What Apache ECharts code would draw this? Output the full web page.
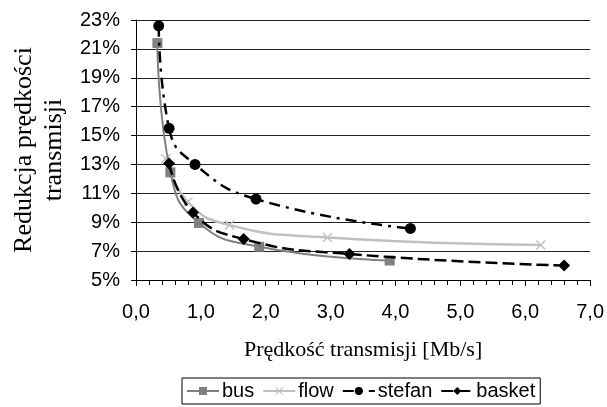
<!DOCTYPE html>
<html>
<head>
<meta charset="utf-8">
<script src="https://cdn.jsdelivr.net/npm/echarts@6/dist/echarts.min.js"></script>
<style>
  html, body { margin: 0; padding: 0; background: #fff; }
  #chart_example { width: 607px; height: 407px; }
</style>
</head>
<body>
<div id="chart_example"></div>
<script>
// dane
var busX = [0.33, 0.53, 0.97, 1.9, 3.91];
var busY = [21.4, 12.45, 8.95, 7.3, 6.35];
var flowX = [0.46, 0.8, 1.44, 2.95, 6.24];
var flowY = [13.4, 10.4, 8.8, 7.95, 7.42];
var stefanX = [0.35, 0.51, 0.91, 1.85, 4.23];
var stefanY = [22.6, 15.5, 13.0, 10.6, 8.57];
var basketX = [0.51, 0.88, 1.66, 3.29, 6.6];
var basketY = [13.07, 9.67, 7.83, 6.8, 6.0];

function pairs(xs, ys) {
  return xs.map(function(x, i) { return [x, ys[i]]; });
}

var crossIcon = "path://M0,1L1,0L5,4L9,0L10,1L6,5L10,9L9,10L5,6L1,10L0,9L4,5Z";

var myChart = echarts.init(document.getElementById("chart_example"));
var option = {
  backgroundColor: "#ffffff",
  animation: false,
  grid: { left: 136, right: 15, top: 20, bottom: 127 },
  xAxis: {
    type: "value",
    min: 0,
    max: 7,
    interval: 1,
    name: "Prędkość transmisji [Mb/s]",
    nameLocation: "middle",
    nameGap: 59,
    nameTextStyle: { fontFamily: "Liberation Serif", fontSize: 22, color: "#000" },
    axisLine: { lineStyle: { color: "#000", width: 1 } },
    axisTick: { show: true, length: 6, lineStyle: { color: "#000" } },
    minorTick: { show: true, splitNumber: 5, length: 5, lineStyle: { color: "#000" } },
    splitLine: { show: false },
    axisLabel: {
      margin: 22,
      fontFamily: "Liberation Sans",
      fontSize: 20,
      color: "#000",
      formatter: function(v) { return v.toFixed(1).replace(".", ","); }
    }
  },
  yAxis: {
    type: "value",
    min: 5,
    max: 23,
    interval: 2,
    name: "Redukcja prędkości\ntransmisji",
    nameLocation: "middle",
    nameGap: 66,
    nameTextStyle: { fontFamily: "Liberation Serif", fontSize: 26, lineHeight: 30, color: "#000" },
    axisLine: { show: true, lineStyle: { color: "#000", width: 1 } },
    axisTick: { show: true, length: 5, lineStyle: { color: "#000" } },
    splitLine: { show: true, lineStyle: { color: "#222", width: 1 } },
    axisLabel: {
      margin: 16,
      fontFamily: "Liberation Sans",
      fontSize: 20,
      color: "#000",
      formatter: "{value}%"
    }
  },
  legend: {
    left: 182,
    top: 378,
    padding: [3, 5, 3, 4],
    itemGap: 8,
    itemWidth: 32,
    itemHeight: 10,
    borderColor: "#000",
    borderWidth: 1,
    borderRadius: 0,
    textStyle: { fontFamily: "Liberation Sans", fontSize: 20, color: "#000", padding: [0, 0, 0, -2] },
    data: ["bus", "flow", "stefan", "basket"]
  },
  series: [
    {
      name: "bus",
      type: "line",
      smooth: 0.5,
      data: pairs(busX, busY),
      symbol: "rect",
      symbolSize: 10,
      itemStyle: { color: "#808080" },
      lineStyle: { color: "#808080", width: 2 },
      z: 3
    },
    {
      name: "flow",
      type: "line",
      smooth: 0.5,
      data: pairs(flowX, flowY),
      symbol: crossIcon,
      symbolSize: 10,
      itemStyle: { color: "#c0c0c0" },
      lineStyle: { color: "#c0c0c0", width: 2.5 },
      z: 2
    },
    {
      name: "stefan",
      type: "line",
      smooth: 0.5,
      data: pairs(stefanX, stefanY),
      symbol: "circle",
      symbolSize: 11,
      itemStyle: { color: "#000" },
      lineStyle: { color: "#000", width: 2.5, type: [11, 6, 3, 6] },
      z: 4
    },
    {
      name: "basket",
      type: "line",
      smooth: 0.5,
      data: pairs(basketX, basketY),
      symbol: "diamond",
      symbolSize: 12,
      itemStyle: { color: "#000" },
      lineStyle: { color: "#000", width: 2.5, type: [12, 5] },
      z: 4
    }
  ]
};
myChart.setOption(option);
</script>
</body>
</html>
